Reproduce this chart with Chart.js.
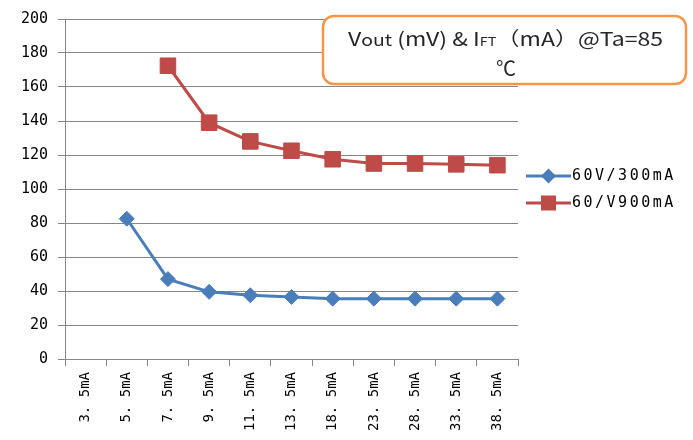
<!DOCTYPE html>
<html>
<head>
<meta charset="utf-8">
<script src="https://cdn.jsdelivr.net/npm/chart.js@4"></script>
<style>
  html, body { margin: 0; padding: 0; background: #fff; }
  #wrap { width: 693px; height: 440px; }
</style>
</head>
<body>
<div id="wrap"><canvas id="chart" width="693" height="440"></canvas></div>
<script>
// chart data
const categories = ["3. 5mA", "5. 5mA", "7. 5mA", "9. 5mA", "11. 5mA", "13. 5mA",
  "18. 5mA", "23. 5mA", "28. 5mA", "33. 5mA", "38. 5mA"];
const series300 = [null, 82.5, 47, 39.5, 37.5, 36.5, 35.5, 35.5, 35.5, 35.5, 35.5];
const series900 = [null, null, 172.5, 139, 128, 122.5, 117.5, 115, 115, 114.5, 114];
const seriesNames = ["60V/300mA", "60/V900mA"];
const yTicks = { min: 0, max: 200, step: 20 };

const BLUE = "#4a7ebb";
const RED = "#be4b48";
const GRID = "#868686";
const MONO = "DejaVu Sans Mono";

// slightly wide glyphs, like the original bitmap font
const spacing = {
  id: "spacing",
  beforeInit(chart) { chart.ctx.letterSpacing = "2px"; }
};

// title box + legend drawn on top of the plot
const extras = {
  id: "extras",
  afterDraw(chart) {
    const ctx = chart.ctx;
    ctx.save();

    // title box
    ctx.letterSpacing = "0px";
    ctx.beginPath();
    ctx.roundRect(323, 16, 363, 68, 11);
    ctx.fillStyle = "#fff";
    ctx.fill();
    ctx.lineWidth = 2.5;
    ctx.strokeStyle = "#f79646";
    ctx.stroke();

    const parts = [
      ["V", 19], ["out", 16], [" (mV) & I", 19], ["FT", 12], ["（mA）@Ta=85", 19]
    ];
    const fam = '"Noto Sans CJK SC", "Noto Sans", sans-serif';
    let total = 0;
    parts.forEach(p => { ctx.font = p[1] + "px " + fam; total += ctx.measureText(p[0]).width; });
    const sx = 315 / total;
    ctx.save();
    ctx.translate(348, 0);
    ctx.scale(sx, 1);
    let x = 0;
    ctx.fillStyle = "#262626";
    ctx.textBaseline = "alphabetic";
    ctx.textAlign = "left";
    parts.forEach(p => {
      ctx.font = p[1] + "px " + fam;
      ctx.fillText(p[0], x, 46);
      x += ctx.measureText(p[0]).width;
    });
    ctx.restore();
    ctx.font = "20px " + fam;
    ctx.fillStyle = "#262626";
    ctx.textAlign = "center";
    ctx.fillText("℃", 506, 76);

    // legend
    const rows = [
      { y: 176, color: BLUE, shape: "diamond", label: seriesNames[0] },
      { y: 203, color: RED, shape: "square", label: seriesNames[1] }
    ];
    ctx.letterSpacing = "2.5px";
    rows.forEach(r => {
      ctx.strokeStyle = r.color;
      ctx.lineWidth = 3;
      ctx.beginPath();
      ctx.moveTo(526, r.y);
      ctx.lineTo(571, r.y);
      ctx.stroke();
      ctx.fillStyle = r.color;
      ctx.beginPath();
      if (r.shape === "diamond") {
        ctx.moveTo(548.5, r.y - 7.5);
        ctx.lineTo(556, r.y);
        ctx.lineTo(548.5, r.y + 7.5);
        ctx.lineTo(541, r.y);
        ctx.closePath();
      } else {
        ctx.rect(541, r.y - 7.5, 15, 15);
      }
      ctx.fill();
      ctx.fillStyle = "#000";
      ctx.font = "15px " + MONO;
      ctx.textAlign = "left";
      ctx.textBaseline = "middle";
      ctx.fillText(r.label, 572, r.y);
    });
    ctx.restore();
  }
};

new Chart(document.getElementById("chart"), {
  type: "line",
  data: {
    labels: categories,
    datasets: [
      {
        label: seriesNames[0],
        data: series300,
        borderColor: BLUE,
        backgroundColor: BLUE,
        borderWidth: 3,
        pointStyle: "rectRot",
        pointRadius: 7.5,
        pointBorderWidth: 1,
        tension: 0
      },
      {
        label: seriesNames[1],
        data: series900,
        borderColor: RED,
        backgroundColor: RED,
        borderWidth: 3,
        pointStyle: "rect",
        pointRadius: 11,
        pointBorderWidth: 1,
        tension: 0
      }
    ]
  },
  options: {
    responsive: false,
    animation: false,
    events: [],
    layout: { padding: { top: 14, right: 175, left: 0, bottom: 0 } },
    plugins: {
      legend: { display: false },
      tooltip: { enabled: false }
    },
    scales: {
      x: {
        offset: true,
        afterFit(scale) { scale.height = 81; },
        grid: {
          offset: true,
          drawOnChartArea: false,
          color: GRID,
          tickLength: 7,
          lineWidth: 1
        },
        border: { color: GRID, width: 1 },
        ticks: {
          autoSkip: false,
          minRotation: 90,
          maxRotation: 90,
          padding: 6,
          color: "#000",
          font: { family: MONO, size: 14 }
        }
      },
      y: {
        min: yTicks.min,
        max: yTicks.max,
        afterFit(scale) { scale.width = 65; },
        grid: { color: GRID, tickLength: 7, lineWidth: 1 },
        border: { color: GRID, width: 1 },
        ticks: {
          stepSize: yTicks.step,
          padding: 10,
          color: "#000",
          font: { family: MONO, size: 15 }
        }
      }
    }
  },
  plugins: [spacing, extras]
});
</script>
</body>
</html>
